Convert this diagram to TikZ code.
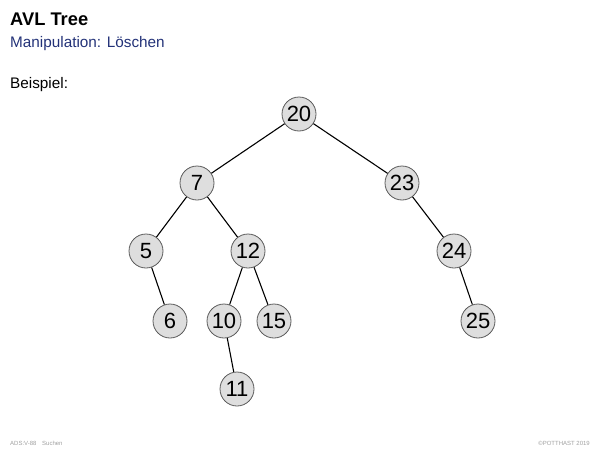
\documentclass[tikz,border=0pt]{standalone}
\usepackage{fontspec}
\setmainfont{Liberation Sans}
\definecolor{subblue}{RGB}{35,50,120}
\definecolor{nodefill}{RGB}{222,222,222}
\definecolor{nodeedge}{RGB}{90,90,90}
\definecolor{footgray}{RGB}{160,160,160}
\begin{document}
\begin{tikzpicture}[x=1pt,y=-1pt,
  tn/.style={circle,draw=nodeedge,line width=0.8pt,fill=nodefill,minimum size=34pt,inner sep=0pt,font=\fontsize{22}{24}\selectfont},
  tedge/.style={line width=1.1pt,black},
  foot/.style={anchor=base west,inner sep=0pt,text=footgray,font=\fontsize{6}{7}\selectfont}]
\useasboundingbox (0,0) rectangle (600,450);
\node[anchor=base west,inner sep=0pt,font=\fontsize{18.3}{22}\selectfont\bfseries] (title) at (10,25) {AVL Tree};
\node[anchor=base west,inner sep=0pt,text=subblue,font=\fontsize{15.3}{17}\selectfont] (sub) at (10,47) {Manipulation: Löschen};
\node[anchor=base west,inner sep=0pt,font=\fontsize{15.3}{17}\selectfont] (bsp) at (10,88) {Beispiel:};
\node[tn] (n20) at (299,114) {20};
\node[tn] (n7) at (197,183) {7};
\node[tn] (n23) at (402,183) {23};
\node[tn] (n5) at (146,251) {5};
\node[tn] (n12) at (248,251) {12};
\node[tn] (n24) at (454,251) {24};
\node[tn] (n6) at (170,321) {6};
\node[tn] (n10) at (224,321) {10};
\node[tn] (n15) at (274,321) {15};
\node[tn] (n25) at (478,321) {25};
\node[tn] (n11) at (237,389) {11};
\draw[tedge] (n20) -- (n7);
\draw[tedge] (n20) -- (n23);
\draw[tedge] (n7) -- (n5);
\draw[tedge] (n7) -- (n12);
\draw[tedge] (n23) -- (n24);
\draw[tedge] (n5) -- (n6);
\draw[tedge] (n12) -- (n10);
\draw[tedge] (n12) -- (n15);
\draw[tedge] (n24) -- (n25);
\draw[tedge] (n10) -- (n11);
\node[foot] (f1) at (10,445) {ADS:V-88};
\node[foot] (f2) at (42,445) {Suchen};
\node[anchor=base east,inner sep=0pt,text=footgray,font=\fontsize{6}{7}\selectfont] (f3) at (590,445) {©POTTHAST 2019};
\end{tikzpicture}
\end{document}
